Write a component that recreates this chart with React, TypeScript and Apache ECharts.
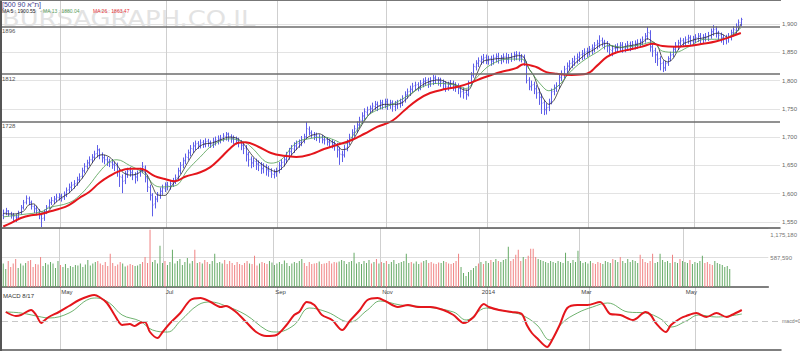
import React, { useEffect, useRef } from "react";
import * as echarts from "echarts";

const opens = [
  1562,1567,1569,1565,1561,1559,1559,1567,1576,1585,
  1591,1584,1577,1573,1569,1562,1557,1569,1577,1584,
  1587,1591,1593,1596,1593,1599,1607,1611,1616,1619,
  1625,1631,1641,1648,1655,1660,1665,1671,1677,1668,
  1663,1660,1656,1655,1651,1649,1639,1629,1623,1636,
  1641,1637,1632,1629,1637,1641,1647,1628,1611,1597,
  1582,1591,1597,1604,1609,1616,1613,1619,1623,1629,
  1641,1651,1659,1664,1673,1679,1684,1689,1685,1691,
  1687,1693,1689,1687,1692,1694,1696,1699,1701,1706,
  1701,1697,1697,1694,1691,1685,1681,1669,1661,1654,
  1657,1653,1651,1644,1647,1643,1639,1634,1638,1641,
  1649,1656,1661,1667,1674,1679,1684,1689,1691,1695,
  1701,1714,1707,1704,1703,1699,1699,1695,1696,1691,
  1691,1687,1684,1677,1669,1669,1681,1691,1699,1707,
  1714,1721,1729,1737,1744,1749,1751,1754,1758,1755,
  1761,1757,1763,1756,1761,1754,1757,1759,1761,1767,
  1774,1781,1784,1791,1793,1787,1796,1799,1801,1795,
  1799,1805,1801,1801,1797,1795,1789,1794,1796,1791,
  1791,1786,1781,1779,1776,1796,1809,1824,1831,1834,
  1837,1841,1835,1839,1834,1841,1843,1837,1841,1843,
  1837,1841,1842,1846,1847,1841,1841,1832,1801,1789,
  1793,1786,1779,1771,1761,1749,1753,1762,1781,1787,
  1791,1806,1811,1821,1825,1831,1833,1839,1841,1846,
  1847,1851,1851,1856,1857,1863,1865,1871,1867,1866,
  1861,1853,1857,1857,1861,1863,1857,1861,1865,1861,
  1862,1866,1864,1869,1873,1879,1884,1859,1853,1846,
  1839,1831,1823,1831,1839,1846,1856,1861,1867,1871,
  1867,1873,1876,1869,1874,1875,1879,1873,1877,1877,
  1879,1887,1891,1883,1881,1875,1872,1876,1877,1885,
  1889,1895,1902,
];
const highs = [
  1572,1575,1571,1568,1566,1564,1570,1580,1589,1597,
  1595,1588,1581,1578,1573,1566,1572,1580,1590,1594,
  1596,1600,1601,1600,1604,1611,1618,1621,1624,1630,
  1636,1646,1654,1660,1666,1670,1676,1686,1680,1673,
  1669,1665,1662,1661,1657,1655,1645,1634,1640,1646,
  1647,1642,1638,1641,1646,1656,1650,1632,1616,1601,
  1596,1603,1611,1616,1620,1621,1623,1628,1634,1646,
  1656,1664,1671,1678,1686,1691,1694,1693,1696,1695,
  1698,1697,1694,1699,1701,1703,1704,1707,1709,1708,
  1705,1703,1701,1699,1695,1690,1686,1674,1666,1664,
  1662,1659,1656,1654,1652,1649,1645,1643,1646,1656,
  1661,1666,1674,1681,1686,1691,1694,1696,1702,1706,
  1727,1719,1712,1709,1708,1705,1704,1702,1700,1697,
  1696,1693,1690,1683,1676,1686,1696,1706,1714,1721,
  1728,1736,1744,1751,1754,1756,1761,1764,1763,1766,
  1766,1768,1768,1766,1765,1764,1766,1768,1774,1781,
  1786,1791,1796,1798,1797,1801,1804,1806,1805,1806,
  1810,1809,1806,1805,1802,1799,1798,1801,1800,1797,
  1795,1791,1788,1784,1800,1815,1830,1836,1841,1844,
  1847,1846,1844,1844,1846,1848,1849,1845,1848,1849,
  1847,1849,1851,1852,1851,1847,1846,1834,1806,1800,
  1798,1792,1786,1777,1766,1760,1768,1786,1793,1797,
  1811,1818,1826,1832,1836,1840,1844,1848,1851,1854,
  1857,1858,1861,1864,1868,1872,1880,1876,1872,1870,
  1866,1862,1864,1866,1868,1868,1866,1870,1869,1870,
  1871,1873,1874,1878,1884,1895,1889,1866,1858,1851,
  1843,1836,1835,1843,1851,1860,1868,1872,1876,1875,
  1878,1881,1880,1879,1882,1884,1884,1882,1884,1886,
  1892,1898,1896,1888,1885,1881,1881,1884,1890,1896,
  1901,1908,1911,
];
const lows = [
  1555,1562,1560,1556,1552,1550,1555,1563,1572,1581,
  1580,1572,1566,1562,1555,1541,1552,1564,1573,1580,
  1582,1585,1588,1586,1589,1594,1601,1605,1609,1614,
  1620,1627,1636,1643,1649,1654,1659,1664,1661,1655,
  1652,1649,1647,1644,1640,1630,1612,1601,1617,1628,
  1630,1624,1618,1622,1630,1636,1620,1603,1588,1560,
  1574,1585,1591,1598,1603,1606,1607,1612,1617,1624,
  1635,1645,1652,1659,1666,1672,1677,1679,1680,1681,
  1682,1683,1681,1681,1685,1687,1689,1692,1694,1692,
  1690,1688,1687,1682,1677,1670,1657,1648,1645,1647,
  1642,1640,1635,1636,1632,1630,1628,1627,1630,1636,
  1642,1648,1654,1660,1667,1672,1677,1681,1684,1689,
  1696,1703,1698,1695,1693,1690,1689,1687,1685,1682,
  1680,1676,1664,1651,1656,1664,1675,1686,1694,1701,
  1708,1716,1724,1731,1738,1741,1744,1748,1746,1749,
  1749,1751,1748,1750,1745,1746,1750,1752,1755,1761,
  1768,1773,1779,1783,1781,1783,1788,1791,1787,1789,
  1792,1794,1791,1789,1785,1780,1782,1785,1782,1780,
  1776,1770,1768,1766,1772,1791,1805,1818,1824,1828,
  1830,1829,1828,1826,1828,1832,1830,1829,1832,1830,
  1830,1833,1835,1836,1834,1832,1826,1795,1783,1782,
  1776,1768,1757,1741,1739,1740,1746,1758,1774,1780,
  1786,1799,1804,1813,1818,1822,1826,1830,1833,1836,
  1838,1841,1844,1846,1850,1855,1858,1860,1855,1850,
  1845,1843,1848,1850,1852,1849,1850,1853,1852,1854,
  1855,1856,1858,1862,1867,1872,1851,1842,1831,1826,
  1818,1815,1817,1826,1834,1841,1849,1854,1859,1860,
  1861,1865,1863,1862,1866,1868,1866,1866,1869,1870,
  1874,1879,1876,1871,1867,1863,1864,1867,1871,1878,
  1882,1888,1896,
];
const closes = [
  1566,1570,1564,1562,1560,1558,1566,1575,1584,1592,
  1585,1578,1574,1570,1563,1556,1568,1576,1585,1588,
  1590,1594,1595,1592,1598,1606,1612,1615,1618,1624,
  1630,1640,1648,1654,1660,1664,1670,1678,1668,1664,
  1660,1657,1655,1652,1650,1640,1630,1622,1635,1640,
  1638,1633,1630,1636,1640,1648,1630,1612,1598,1580,
  1590,1598,1605,1610,1615,1614,1618,1622,1628,1640,
  1650,1658,1665,1672,1680,1685,1688,1686,1690,1688,
  1692,1690,1688,1693,1695,1697,1698,1702,1705,1700,
  1698,1696,1695,1690,1686,1680,1670,1660,1655,1658,
  1652,1650,1645,1648,1642,1640,1635,1637,1640,1650,
  1655,1660,1668,1675,1680,1685,1688,1690,1696,1700,
  1715,1708,1705,1702,1700,1698,1696,1695,1692,1690,
  1688,1685,1678,1670,1668,1680,1690,1700,1708,1715,
  1722,1730,1738,1745,1748,1750,1755,1758,1756,1760,
  1758,1762,1757,1760,1755,1758,1760,1762,1768,1775,
  1780,1785,1790,1792,1788,1795,1798,1800,1796,1800,
  1804,1802,1800,1798,1794,1790,1793,1795,1792,1790,
  1786,1780,1778,1775,1795,1810,1825,1830,1835,1838,
  1840,1836,1838,1835,1840,1842,1838,1840,1842,1838,
  1840,1843,1845,1846,1842,1840,1835,1800,1790,1792,
  1785,1778,1770,1760,1748,1752,1760,1780,1786,1790,
  1805,1812,1820,1826,1830,1834,1838,1842,1845,1848,
  1850,1852,1855,1858,1862,1866,1870,1868,1865,1860,
  1855,1856,1858,1860,1862,1858,1860,1864,1862,1864,
  1865,1866,1868,1872,1878,1885,1860,1852,1845,1838,
  1830,1822,1830,1838,1845,1855,1862,1866,1870,1868,
  1872,1875,1870,1873,1876,1878,1874,1876,1878,1880,
  1886,1890,1884,1880,1876,1873,1875,1878,1884,1890,
  1896,1903,1908,
];
// volume in thousands of units
const volumesK = [
  470,360,520,400,470,560,380,470,430,480,
  520,540,400,460,450,600,420,480,450,500,
  470,380,520,440,400,460,380,420,400,440,
  430,470,400,450,540,430,470,500,520,470,
  440,500,420,660,480,420,450,500,470,410,
  430,460,440,420,430,460,500,600,480,1140,
  500,540,470,820,480,520,440,500,740,470,
  520,560,440,500,580,470,520,740,480,500,
  470,540,500,460,520,660,480,500,470,540,
  460,520,480,440,500,460,440,480,520,470,
  460,620,430,470,500,480,460,520,490,440,
  470,500,460,530,480,420,470,500,480,520,
  560,480,420,500,460,470,480,510,460,470,
  480,520,470,500,490,510,540,520,460,500,
  520,680,470,500,460,520,480,540,470,500,
  560,470,500,480,520,460,500,540,460,480,
  500,520,660,480,500,470,510,460,490,520,
  540,480,500,470,460,490,480,520,500,470,
  460,480,520,660,400,280,220,300,340,380,
  420,470,500,460,520,480,540,500,560,520,
  500,540,560,800,520,560,640,740,520,600,
  560,620,760,760,600,560,540,520,500,480,
  520,500,480,520,500,480,680,520,480,540,
  500,720,520,480,500,470,520,480,460,500,
  480,460,520,500,480,560,540,500,600,520,
  480,560,500,540,520,480,640,560,500,480,
  520,660,480,500,660,540,500,520,480,640,
  500,480,560,520,500,480,540,460,500,480,
  520,620,480,500,460,440,520,480,460,440,
  400,420,360,
];
// moving averages: [bar index, value]
const ma5 = [
  [0,1565],[4,1564],[8,1569],[10,1580],[12,1582],[15,1568],[17,1567],[20,1581],[23,1593],[26,1601],
  [29,1615],[32,1632],[35,1653],[37,1665],[39,1669],[42,1665],[45,1651],[47,1639],[50,1633],[53,1635],
  [55,1641],[57,1633],[59,1614],[61,1598],[64,1597],[67,1616],[70,1632],[73,1655],[76,1676],[79,1687],
  [83,1690],[87,1697],[89,1700],[92,1699],[95,1689],[97,1677],[99,1665],[102,1653],[106,1642],[108,1639],
  [111,1648],[114,1668],[117,1683],[120,1698],[122,1703],[125,1706],[129,1695],[132,1687],[134,1678],[136,1679],
  [139,1699],[142,1722],[145,1741],[148,1753],[151,1758],[155,1758],[158,1761],[161,1774],[164,1786],[167,1795],
  [170,1800],[173,1801],[176,1796],[179,1793],[182,1784],[184,1783],[186,1797],[188,1817],[190,1834],[193,1837],
  [196,1839],[200,1840],[204,1844],[206,1842],[208,1822],[210,1809],[212,1785],[214,1767],[216,1758],[218,1765],
  [220,1784],[222,1801],[225,1824],[228,1837],[231,1848],[234,1855],[236,1862],[239,1866],[241,1861],[244,1858],
  [247,1861],[250,1863],[253,1867],[255,1874],[257,1869],[259,1862],[261,1839],[263,1833],[265,1838],[267,1853],
  [269,1864],[272,1870],[275,1874],[278,1876],[281,1882],[283,1884],[285,1881],[287,1876],[289,1880],[291,1890],
  [292,1900],
];
const ma13 = [
  [0,1559],[7,1563],[15,1568],[18,1575],[26,1584],[30,1596],[34,1615],[38,1638],[42,1656],[45,1660],
  [50,1650],[55,1638],[62,1612],[68,1614],[73,1642],[78,1665],[83,1686],[90,1697],[96,1690],[98,1683],
  [106,1654],[110,1660],[116,1690],[122,1698],[127,1700],[131,1695],[135,1688],[139,1706],[144,1736],[148,1748],
  [154,1758],[159,1770],[166,1789],[172,1795],[179,1792],[183,1786],[188,1808],[193,1828],[200,1838],[205,1838],
  [209,1815],[213,1792],[216,1782],[220,1792],[224,1813],[229,1833],[235,1850],[240,1862],[245,1859],[252,1863],
  [257,1868],[261,1852],[266,1850],[271,1859],[278,1873],[283,1873],[287,1877],[292,1893],
];
const ma26 = [
  [0,1542],[3,1548],[7,1557],[11,1562],[15,1564],[18,1568],[22,1573],[26,1580],[30,1592],[34,1603],
  [38,1619],[42,1631],[46,1640],[50,1644],[54,1644],[56,1642],[60,1631],[64,1626],[68,1622],[72,1630],
  [78,1638],[82,1647],[86,1663],[90,1681],[93,1690],[96,1691],[101,1683],[106,1672],[111,1667],[116,1665],
  [122,1670],[127,1679],[132,1686],[138,1695],[143,1706],[148,1718],[154,1729],[159,1748],[164,1766],[169,1778],
  [175,1785],[180,1789],[185,1796],[190,1805],[194,1811],[197,1815],[203,1822],[206,1829],[211,1824],[215,1815],
  [219,1812],[225,1810],[231,1812],[235,1826],[239,1842],[243,1850],[248,1855],[253,1860],[257,1865],[261,1861],
  [266,1860],[271,1861],[277,1865],[282,1869],[287,1876],[292,1884],
];
// MACD 8/17 and its signal: [bar index, value]
const macdLine = [
  [1,9],[5,5],[7,6],[11,11],[13,6],[15,-2],[16,0],[18,4],[22,9],[26,15],
  [30,21],[34,25],[36,26],[38,24],[41,18],[44,6],[47,-4],[50,-3],[52,-5],[54,-2],
  [56,-1],[58,-11],[61,-17],[63,-11],[66,-2],[70,8],[74,21],[78,23],[82,19],[86,14],
  [88,15],[92,9],[96,-1],[100,-11],[104,-15],[108,-14],[112,-4],[115,6],[117,9],[120,19],
  [123,16],[126,6],[130,1],[134,-9],[137,0],[141,11],[144,21],[148,23],[151,20],[156,14],
  [160,16],[164,14],[169,14],[174,11],[178,6],[182,-2],[186,4],[190,17],[192,14],[196,11],
  [201,9],[205,7],[207,-4],[209,-12],[211,-17],[215,-26],[217,-19],[220,-4],[223,13],[227,16],
  [231,16],[236,19],[240,7],[244,6],[249,1],[254,9],[256,6],[258,-2],[262,-11],[264,-4],
  [268,3],[270,5],[274,8],[278,4],[282,8],[286,4],[288,6],[292,11],
];
const signalLine = [
  [1,9],[7,8],[15,4],[18,3],[26,8],[34,22],[37,23],[42,18],[47,6],[54,0],
  [59,-9],[65,-11],[70,0],[77,16],[82,19],[88,15],[96,6],[104,-9],[108,-11],[115,-4],
  [121,13],[128,9],[137,-1],[144,11],[149,20],[157,16],[167,14],[178,9],[183,1],[191,13],
  [200,9],[205,6],[211,-4],[216,-19],[221,-2],[227,8],[233,14],[239,18],[247,9],[254,8],
  [260,2],[264,-6],[270,0],[275,6],[282,4],[292,7],
];
const monthTicks = [22.5, 64.5, 108.5, 151.5, 191.5, 231.5, 273.5];
const monthLabels = ["May", "Jul", "Sep", "Nov", "2014", "Mar", "May"];
const priceTicks = [1550, 1600, 1650, 1700, 1750, 1800, 1850, 1900];
const levelLines = [1896, 1812, 1728];
const volumeTicks = [587590, 1175180];
const legendItems = [
  { text: "MA 5 : 1900.55", color: "#222222" },
  { text: "- MA 13 : 1880.04", color: "#5aa05a" },
  { text: "MA 26 : 1863.47", color: "#e8343a" },
];
const titleText = "[500 ת\"א 90]";

const SLOTS = 308;

export default function App() {
  const ref = useRef<HTMLDivElement>(null);
  useEffect(() => {
    document.body.style.margin = "0";
    if (!ref.current) return;
    const chart = echarts.init(ref.current, null, { renderer: "svg" });
    const font = "'Liberation Sans', Arial, sans-serif";
    const ohlc = closes.map((c, i) => [i, opens[i], highs[i], lows[i], c]);
    const volData = volumesK.map((v, i) => ({
      value: [i, v * 1000],
      itemStyle: { color: closes[i] < opens[i] ? "#f08282" : "#66aa66" },
    }));
    const xAxisBase = (gi: number) => ({
      type: "value",
      gridIndex: gi,
      min: -0.5,
      max: SLOTS - 0.5,
      axisLine: { show: true, onZero: false, lineStyle: { color: "#555", width: 1.5 } },
      axisTick: { show: false, customValues: monthTicks },
      axisLabel:
        gi === 1
          ? {
              show: true,
              customValues: monthTicks,
              formatter: (v: number) => monthLabels[monthTicks.indexOf(v)] ?? "",
              align: "left",
              verticalAlign: "top",
              fontSize: 6,
              color: "#444",
              margin: 2,
              padding: [0, 0, 0, 2],
              fontFamily: font,
            }
          : { show: false },
      splitLine: { show: true, lineStyle: { color: "#cfcfcf", width: 1 } },
    });
    const option: any = {
      animation: false,
      backgroundColor: "#ffffff",
      textStyle: { fontFamily: font },
      grid: [
        { left: 2, top: 1, width: 779, height: 227 },
        { left: 2, top: 228, width: 779, height: 59 },
        { left: 2, top: 287, width: 779, height: 63 },
      ],
      xAxis: [xAxisBase(0), xAxisBase(1), xAxisBase(2)],
      yAxis: [
        {
          type: "value",
          gridIndex: 0,
          position: "right",
          min: 1539.4,
          max: 1940.66,
          axisLine: { show: false },
          axisTick: { show: false, customValues: priceTicks },
          axisLabel: {
            customValues: priceTicks,
            formatter: (v: number) => v.toLocaleString("en-US"),
            fontSize: 6,
            color: "#666",
            margin: 2,
            align: "left",
            fontFamily: font,
          },
          splitLine: { show: true, lineStyle: { color: "#e3e3e3", width: 1 } },
        },
        {
          type: "value",
          gridIndex: 1,
          position: "right",
          min: 0,
          max: 1175180,
          axisLine: { show: false },
          axisTick: { show: false, customValues: volumeTicks },
          axisLabel: {
            customValues: volumeTicks,
            formatter: (v: number) =>
              v === volumeTicks[1]
                ? "{top|" + v.toLocaleString("en-US") + "}"
                : v.toLocaleString("en-US"),
            rich: { top: { padding: [14, 0, 0, 0], fontSize: 6, color: "#777" } },
            fontSize: 6,
            color: "#777",
            margin: 2,
            align: "left",
            fontFamily: font,
          },
          splitLine: { show: true, lineStyle: { color: "#dedede", width: 1 } },
        },
        {
          type: "value",
          gridIndex: 2,
          position: "right",
          min: -29,
          max: 34,
          axisLine: { show: false },
          axisTick: { show: false },
          axisLabel: { show: false },
          splitLine: { show: false },
        },
      ],
      series: [
        {
          type: "custom",
          name: "ohlc",
          xAxisIndex: 0,
          yAxisIndex: 0,
          clip: true,
          encode: { x: 0, y: [1, 2, 3, 4] },
          data: ohlc,
          renderItem: (params: any, api: any) => {
            const i = api.value(0);
            const pO = api.coord([i, api.value(1)]);
            const pH = api.coord([i, api.value(2)]);
            const pL = api.coord([i, api.value(3)]);
            const pC = api.coord([i, api.value(4)]);
            const x = Math.round(pH[0]) + 0.5;
            const style = { stroke: "#5e5ee8", lineWidth: 1, fill: null };
            const tick = { stroke: "#5e5ee8", lineWidth: 0.8, fill: null };
            return {
              type: "group",
              children: [
                { type: "line", shape: { x1: x, y1: pH[1], x2: x, y2: pL[1] }, style },
                { type: "line", shape: { x1: x - 1, y1: pO[1], x2: x, y2: pO[1] }, style: tick },
                { type: "line", shape: { x1: x, y1: pC[1], x2: x + 1, y2: pC[1] }, style: tick },
              ],
            };
          },
        },
        {
          type: "line",
          name: "MA 5",
          xAxisIndex: 0,
          yAxisIndex: 0,
          data: ma5,
          smooth: 0.3,
          showSymbol: false,
          symbol: "none",
          lineStyle: { color: "#2a2a2a", width: 0.8 },
        },
        {
          type: "line",
          name: "MA 13",
          xAxisIndex: 0,
          yAxisIndex: 0,
          data: ma13,
          smooth: 0.4,
          symbol: "none",
          lineStyle: { color: "#4f9e4f", width: 0.8 },
        },
        {
          type: "line",
          name: "MA 26",
          xAxisIndex: 0,
          yAxisIndex: 0,
          data: ma26,
          smooth: 0.4,
          symbol: "none",
          lineStyle: { color: "#e4161c", width: 2 },
          markLine: {
            symbol: "none",
            silent: true,
            animation: false,
            data: levelLines.map((v) => ({ yAxis: v })),
            lineStyle: { color: "#6c6c6c", width: 1.5, type: "solid" },
            label: {
              position: "insideStartBottom",
              formatter: (p: any) => String(p.value),
              fontSize: 6,
              color: "#555",
              distance: [0, 2],
              fontFamily: font,
            },
          },
        },
        {
          type: "bar",
          name: "volume",
          xAxisIndex: 1,
          yAxisIndex: 1,
          data: volData,
          barWidth: 1,
        },
        {
          type: "line",
          name: "signal",
          xAxisIndex: 2,
          yAxisIndex: 2,
          data: signalLine,
          smooth: 0.4,
          symbol: "none",
          lineStyle: { color: "#4a9e4a", width: 0.8 },
          markLine: {
            symbol: "none",
            silent: true,
            data: [{ yAxis: 0 }],
            lineStyle: { color: "#c8c8c8", width: 1, type: [6, 4] },
            label: {
              position: "end",
              formatter: "macd=0",
              fontSize: 5.2,
              color: "#777",
              distance: 1,
              fontFamily: font,
            },
          },
        },
        {
          type: "line",
          name: "MACD",
          xAxisIndex: 2,
          yAxisIndex: 2,
          data: macdLine,
          smooth: 0.3,
          symbol: "none",
          lineStyle: { color: "#e4161c", width: 2 },
        },
      ],
      graphic: [
        {
          type: "text",
          z: -10,
          x: 2,
          y: 8,
          scaleX: 1.23,
          silent: true,
          style: {
            text: "BURSAGRAPH.CO.IL",
            fill: "#e3e3e3",
            font: "21px 'DejaVu Sans', sans-serif",
            verticalAlign: "top",
          },
        },
        {
          type: "text",
          left: 2,
          top: 1,
          style: { text: titleText, fill: "#3b3b8c", font: "7px " + font },
        },
        {
          type: "text",
          left: 2,
          top: 8,
          style: { text: legendItems[0].text, fill: legendItems[0].color, font: "5px " + font },
        },
        {
          type: "text",
          left: 40,
          top: 8,
          style: { text: legendItems[1].text, fill: legendItems[1].color, font: "5px " + font },
        },
        {
          type: "text",
          left: 93,
          top: 8,
          style: { text: legendItems[2].text, fill: legendItems[2].color, font: "5px " + font },
        },
        {
          type: "text",
          left: 3,
          top: 293,
          style: { text: "MACD 8/17", fill: "#333", font: "6px " + font },
        },
        {
          type: "line",
          shape: { x1: 1, y1: 0, x2: 1, y2: 351 },
          style: { stroke: "#555", lineWidth: 2 },
        },
        {
          type: "line",
          shape: { x1: 0, y1: 0.5, x2: 781, y2: 0.5 },
          style: { stroke: "#777", lineWidth: 1 },
        },
      ],
    };
    chart.setOption(option);
    return () => chart.dispose();
  }, []);
  return <div ref={ref} style={{ width: 800, height: 352 }} />;
}
